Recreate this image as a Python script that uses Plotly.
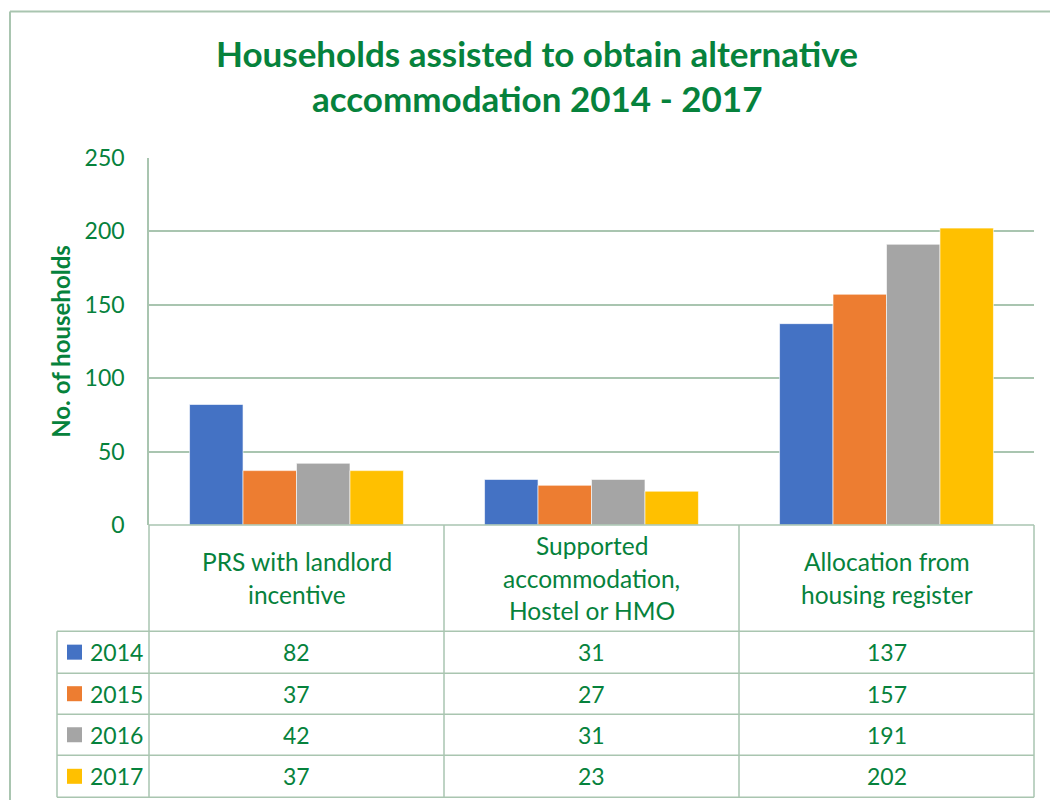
import plotly.graph_objects as go

categories = ["PRS with landlord<br>incentive",
              "Supported<br>accommodation,<br>Hostel or HMO",
              "Allocation from<br>housing register"]
years = ["2014", "2015", "2016", "2017"]
values = {
    "2014": [82, 31, 137],
    "2015": [37, 27, 157],
    "2016": [42, 31, 191],
    "2017": [37, 23, 202],
}
colors = ["#4472C4", "#ED7D31", "#A5A5A5", "#FFC000"]
y_ticks = [0, 50, 100, 150, 200, 250]

W, H = 1050, 815
OFF, SC = 14.6, 0.9645
GREEN = "#06823C"
LINE = "#A9C5B0"
FONT = "Lato"

def px(x):
    return x / W

def py(y):
    return 1 - ((y - OFF) / SC) / H

fig = go.Figure()
for yr, col in zip(years, colors):
    fig.add_trace(go.Bar(x=list(range(len(categories))), y=values[yr], name=yr,
                         marker=dict(color=col, line=dict(color="white", width=0.6)),
                         showlegend=False, hoverinfo="skip"))

plot_l, plot_r, plot_t, plot_b = 149, 1034, 157, 524
fig.update_layout(
    width=W, height=H, margin=dict(l=0, r=0, t=0, b=0),
    paper_bgcolor="white", plot_bgcolor="white",
    barmode="group", bargap=0.275, bargroupgap=0,
    font=dict(family=FONT, color=GREEN),
    xaxis=dict(domain=[px(plot_l), px(plot_r)], range=[-0.5, len(categories) - 0.5],
               showticklabels=False, showgrid=False, zeroline=False,
               showline=False, fixedrange=True),
    yaxis=dict(domain=[py(plot_b), py(plot_t)], range=[0, 250], tickvals=y_ticks,
               showgrid=True, gridcolor=LINE, gridwidth=1.5, zeroline=False,
               showline=True, linecolor=LINE, linewidth=1.5,
               tickfont=dict(size=23, color=GREEN, family=FONT),
               ticks="", ticklabelstandoff=18),
)

ann = []
# Title
ann.append(dict(text="<b>Households assisted to obtain alternative</b>", x=px(537), y=py(53),
                xref="paper", yref="paper", showarrow=False,
                font=dict(size=35, color=GREEN, family=FONT), xanchor="center", yanchor="middle"))
ann.append(dict(text="<b>accommodation 2014 - 2017</b>", x=px(537), y=py(98),
                xref="paper", yref="paper", showarrow=False,
                font=dict(size=35, color=GREEN, family=FONT), xanchor="center", yanchor="middle"))
# Y-axis title
ann.append(dict(text="<b>No. of households</b>", x=px(61), y=py(341), textangle=-90,
                xref="paper", yref="paper", showarrow=False,
                font=dict(size=24, color=GREEN, family=FONT), xanchor="center", yanchor="middle"))

# Header category labels
hdr_top, hdr_bot = 524, 630
hdr_c = (hdr_top + hdr_bot) / 2
lh = 32.5
for i, cat in enumerate(categories):
    lines = cat.split("<br>")
    n = len(lines)
    for j, ln in enumerate(lines):
        yc = hdr_c + (j - (n - 1) / 2) * lh
        ann.append(dict(text=ln, x=i, y=py(yc), xref="x", yref="paper", showarrow=False,
                        font=dict(size=24.5, color=GREEN, family=FONT),
                        xanchor="center", yanchor="middle"))

# Table rows
row_edges = [630, 672, 713, 754, 796]
shapes = []
for r, (yr, col) in enumerate(zip(years, colors)):
    yc = (row_edges[r] + row_edges[r + 1]) / 2
    shapes.append(dict(type="rect", xref="paper", yref="paper",
                       x0=px(67), x1=px(82), y0=py(yc - 7.5), y1=py(yc + 7.5),
                       fillcolor=col, line=dict(width=0)))
    ann.append(dict(text=yr, x=px(88), y=py(yc), xref="paper", yref="paper", showarrow=False,
                    font=dict(size=23, color=GREEN, family=FONT),
                    xanchor="left", yanchor="middle"))
    for i, v in enumerate(values[yr]):
        ann.append(dict(text=str(v), x=i, y=py(yc), xref="x", yref="paper", showarrow=False,
                        font=dict(size=23, color=GREEN, family=FONT),
                        xanchor="center", yanchor="middle"))

def line(x0, y0, x1, y1, w=1.5):
    shapes.append(dict(type="line", xref="paper", yref="paper",
                       x0=px(x0), y0=py(y0), x1=px(x1), y1=py(y1),
                       line=dict(color=LINE, width=w)))

# outer frame
line(10, 11, 1050, 11, 2)
line(10, 11, 10, 800, 2)
# axis baseline
line(plot_l, plot_b, plot_r, plot_b)
# vertical table lines
for xv in [149, 444, 739, 1034]:
    line(xv, plot_b, xv, 796)
line(57, 630, 57, 796)
# horizontal table lines
for yv in row_edges:
    line(57, yv, 1034, yv)

fig.update_layout(annotations=ann, shapes=shapes)

post = (
    "document.body.style.margin='0';document.body.style.padding='0';"
)
fig.write_html("out.html", config={"displayModeBar": False}, post_script=post)
